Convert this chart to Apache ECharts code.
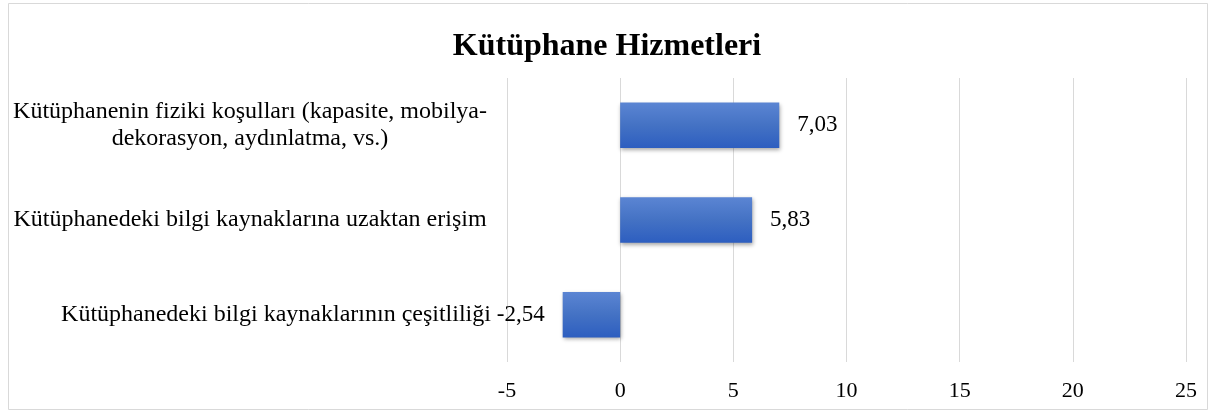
<!DOCTYPE html>
<html><head><meta charset="utf-8">
<script src="https://cdn.jsdelivr.net/npm/echarts@6/dist/echarts.min.js"></script>
<style>html,body{margin:0;padding:0;background:#fff}#c{width:1214px;height:414px}</style>
</head><body><div id="c"></div>
<script>
var categories = [
  'Kütüphanedeki bilgi kaynaklarının çeşitliliği',
  'Kütüphanedeki bilgi kaynaklarına uzaktan erişim',
  'Kütüphanenin fiziki koşulları (kapasite, mobilya-\ndekorasyon, aydınlatma, vs.)'
];
var values = [-2.54, 5.83, 7.03];
var xTicks = [-5, 0, 5, 10, 15, 20, 25];
var title = 'Kütüphane Hizmetleri';

var chart = echarts.init(document.getElementById('c'));
var FONT = '"Liberation Serif","Times New Roman",serif';
var catData = categories.map(function (c, i) {
  var item = { value: c };
  if (i === 0) item.textStyle = { align: 'center', padding: [0, 0, 0, 52] };
  return item;
});
var barData = values.map(function (v) {
  return { value: v, label: { position: v < 0 ? 'left' : 'right' } };
});
chart.setOption({
  animation: false,
  backgroundColor: '#fff',
  title: {
    text: title, left: 'center', top: 26,
    textStyle: { fontFamily: FONT, fontSize: 32, fontWeight: 'bold', color: '#000' }
  },
  graphic: [{
    type: 'rect', shape: { x: 8.5, y: 3.5, width: 1199, height: 406 },
    style: { fill: 'none', stroke: '#d9d9d9', lineWidth: 1 }, z: -1
  }],
  grid: { left: 507, right: 28, top: 78, bottom: 52, containLabel: false, outerBoundsMode: 'none' },
  xAxis: {
    type: 'value', min: xTicks[0], max: xTicks[xTicks.length - 1], interval: 5,
    axisLine: { show: false }, axisTick: { show: false },
    splitLine: { show: true, lineStyle: { color: '#d9d9d9', width: 1 } },
    axisLabel: { fontFamily: FONT, fontSize: 22, color: '#000', margin: 18 }
  },
  yAxis: {
    type: 'category', data: catData,
    axisLine: { show: false }, axisTick: { show: false },
    axisLabel: { fontFamily: FONT, fontSize: 24, color: '#000', align: 'center', margin: 257, lineHeight: 27 }
  },
  series: [{
    type: 'bar', data: barData, barWidth: '48%',
    itemStyle: {
      color: new echarts.graphic.LinearGradient(0, 0, 0, 1, [
        { offset: 0, color: '#5b85d3' },
        { offset: 0.5, color: '#4472c4' },
        { offset: 1, color: '#2d5ec0' }
      ]),
      shadowColor: 'rgba(0,0,0,0.35)', shadowBlur: 4, shadowOffsetX: 1, shadowOffsetY: 2
    },
    label: {
      show: true, position: 'right', distance: 18,
      fontFamily: FONT, fontSize: 23, color: '#000',
      formatter: function (p) { return p.value.toFixed(2).replace('.', ','); }
    }
  }]
});
</script></body></html>
